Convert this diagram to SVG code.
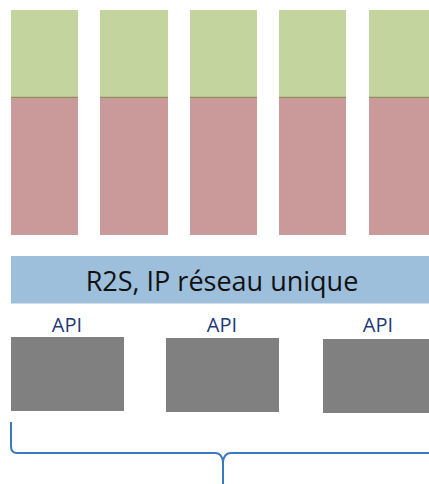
<svg xmlns="http://www.w3.org/2000/svg" width="429" height="484" viewBox="0 0 429 484">
<style>
.g{fill:#c4d49f}
.r{fill:#ca9999}
.d{stroke:#8f8f5f;stroke-width:1.2}
.box{fill:#808080}
.api{font-family:"Open Sans","Liberation Sans",sans-serif;font-size:20px;fill:#1f3a78;text-anchor:middle}
.t{font-family:"Open Sans","Liberation Sans",sans-serif;font-size:27px;fill:#111;text-anchor:middle}
.br{fill:none;stroke:#3a7abf;stroke-width:2}
</style>
<rect width="429" height="484" fill="#fff"/>
<g id="col1"><rect class="g" x="11" y="10" width="67" height="87"/><rect class="r" x="11" y="97" width="67" height="138"/><line class="d" x1="11" y1="97.3" x2="78" y2="97.3"/></g>
<g id="col2"><rect class="g" x="100" y="10" width="68" height="87"/><rect class="r" x="100" y="97" width="68" height="138"/><line class="d" x1="100" y1="97.3" x2="168" y2="97.3"/></g>
<g id="col3"><rect class="g" x="190" y="10" width="67" height="87"/><rect class="r" x="190" y="97" width="67" height="138"/><line class="d" x1="190" y1="97.3" x2="257" y2="97.3"/></g>
<g id="col4"><rect class="g" x="279" y="10" width="67" height="87"/><rect class="r" x="279" y="97" width="67" height="138"/><line class="d" x1="279" y1="97.3" x2="346" y2="97.3"/></g>
<g id="col5"><rect class="g" x="369" y="10" width="60" height="87"/><rect class="r" x="369" y="97" width="60" height="138"/><line class="d" x1="369" y1="97.3" x2="429" y2="97.3"/></g>
<g id="r2s"><rect x="11" y="256" width="418" height="47.5" fill="#9dbfdb"/><text class="t" x="222" y="291">R2S, IP réseau unique</text></g>
<g id="api1"><text class="api" x="67" y="332">API</text><rect class="box" x="11" y="337" width="113" height="74"/></g>
<g id="api2"><text class="api" x="222" y="332">API</text><rect class="box" x="166" y="338" width="113" height="74"/></g>
<g id="api3"><text class="api" x="378" y="332">API</text><rect class="box" x="323" y="339" width="106" height="74"/></g>
<g id="connectors"><path class="br" d="M11 422 V446 Q11 453 17 453 H215 Q222 453 223 462 V484 M223 462 Q224 453 231 453 H429"/></g>
</svg>
